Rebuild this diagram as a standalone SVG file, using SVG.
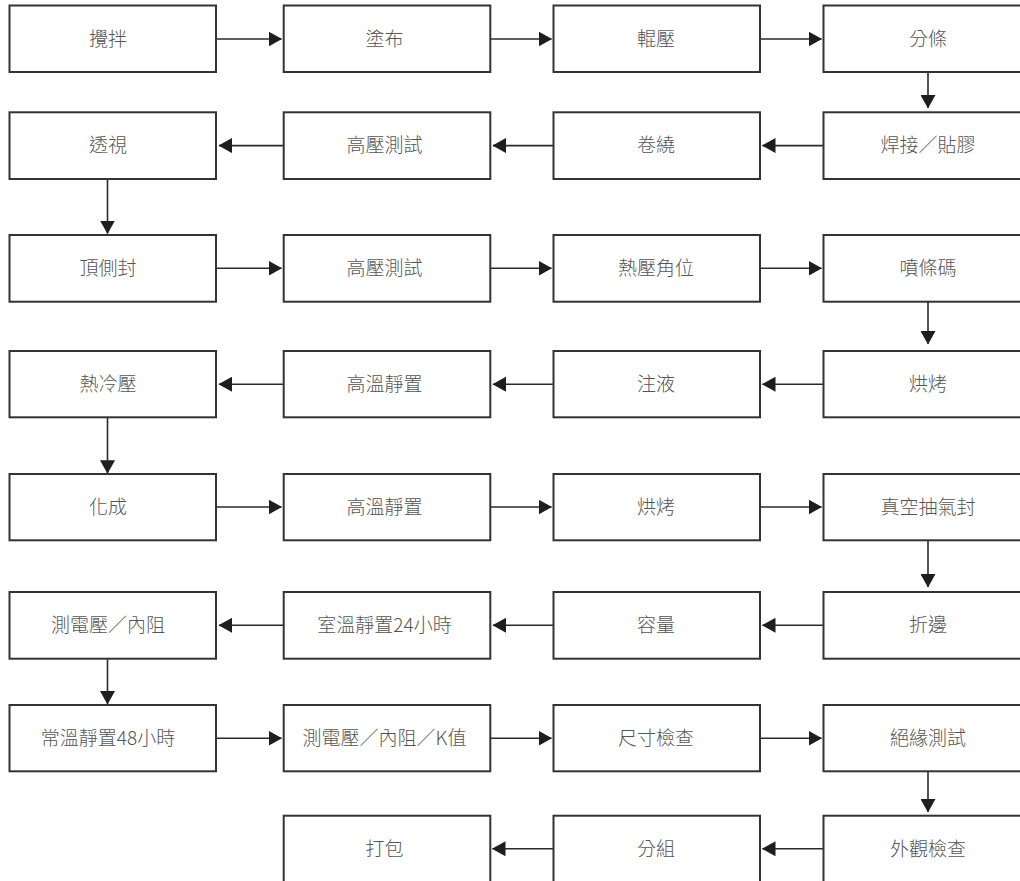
<svg xmlns="http://www.w3.org/2000/svg" width="1020" height="881" viewBox="0 0 1020 881">
<style>
.box{fill:#fff;stroke:#333;stroke-width:2}
.lbl{font-family:"Noto Sans CJK TC","Noto Sans CJK SC",sans-serif;font-size:19px;fill:#555;text-anchor:middle;font-weight:300}
.c{stroke:#2a2a2a;stroke-width:1.6;fill:none;marker-end:url(#ah)}
</style>
<defs>
<marker id="ah" markerUnits="userSpaceOnUse" markerWidth="14" markerHeight="15" refX="13" refY="7.5" orient="auto" viewBox="0 0 14 15">
<path d="M0,0 L13.5,7.5 L0,15 z" fill="#1e1e1e"/>
</marker>
</defs>
<rect width="1020" height="881" fill="#fff"/>
<g id="connectors">
<line class="c" x1="216" y1="39" x2="281.5" y2="39"/>
<line class="c" x1="490.3" y1="39" x2="551.5" y2="39"/>
<line class="c" x1="760" y1="39" x2="821.5" y2="39"/>
<line class="c" x1="928" y1="72" x2="928" y2="108"/>
<line class="c" x1="823.5" y1="145.6" x2="762.5" y2="145.6"/>
<line class="c" x1="553.5" y1="145.6" x2="493" y2="145.6"/>
<line class="c" x1="283.7" y1="145.6" x2="219" y2="145.6"/>
<line class="c" x1="107.5" y1="179" x2="107.5" y2="233.5"/>
<line class="c" x1="216" y1="268.3" x2="281.5" y2="268.3"/>
<line class="c" x1="490.3" y1="268.3" x2="551.5" y2="268.3"/>
<line class="c" x1="760" y1="268.3" x2="821.5" y2="268.3"/>
<line class="c" x1="928" y1="301.7" x2="928" y2="344"/>
<line class="c" x1="823.5" y1="384.2" x2="762.5" y2="384.2"/>
<line class="c" x1="553.5" y1="384.2" x2="493" y2="384.2"/>
<line class="c" x1="283.7" y1="384.2" x2="219" y2="384.2"/>
<line class="c" x1="107.5" y1="417.3" x2="107.5" y2="473.3"/>
<line class="c" x1="216" y1="507" x2="281.5" y2="507"/>
<line class="c" x1="490.3" y1="507" x2="551.5" y2="507"/>
<line class="c" x1="760" y1="507" x2="821.5" y2="507"/>
<line class="c" x1="928" y1="540.3" x2="928" y2="587"/>
<line class="c" x1="823.5" y1="625.3" x2="762.5" y2="625.3"/>
<line class="c" x1="553.5" y1="625.3" x2="493" y2="625.3"/>
<line class="c" x1="283.7" y1="625.3" x2="219" y2="625.3"/>
<line class="c" x1="107.5" y1="658.7" x2="107.5" y2="704"/>
<line class="c" x1="216" y1="738.2" x2="281.5" y2="738.2"/>
<line class="c" x1="490.3" y1="738.2" x2="551.5" y2="738.2"/>
<line class="c" x1="760" y1="738.2" x2="821.5" y2="738.2"/>
<line class="c" x1="928" y1="771.3" x2="928" y2="812"/>
<line class="c" x1="823.5" y1="848.8" x2="762.5" y2="848.8"/>
<line class="c" x1="553.5" y1="848.8" x2="492.5" y2="848.8"/>
</g>
<g id="n1"><rect class="box" x="9.5" y="5.5" width="206.5" height="66.5"/><text class="lbl" x="108" y="45.6">攪拌</text></g>
<g id="n2"><rect class="box" x="283.7" y="5.5" width="206.6" height="66.5"/><text class="lbl" x="384.5" y="45.6">塗布</text></g>
<g id="n3"><rect class="box" x="553.5" y="5.5" width="206.5" height="66.5"/><text class="lbl" x="656" y="45.6">輥壓</text></g>
<g id="n4"><rect class="box" x="823.5" y="5.5" width="207" height="66.5"/><text class="lbl" x="928" y="45.6">分條</text></g>
<g id="n5"><rect class="box" x="823.5" y="112.3" width="207" height="66.7"/><text class="lbl" x="928" y="152.4">焊接／貼膠</text></g>
<g id="n6"><rect class="box" x="553.5" y="112.3" width="206.5" height="66.7"/><text class="lbl" x="656" y="152.4">卷繞</text></g>
<g id="n7"><rect class="box" x="283.7" y="112.3" width="206.6" height="66.7"/><text class="lbl" x="384.5" y="152.4">高壓測試</text></g>
<g id="n8"><rect class="box" x="9.5" y="112.3" width="206.5" height="66.7"/><text class="lbl" x="108" y="152.4">透視</text></g>
<g id="n9"><rect class="box" x="9.5" y="235" width="206.5" height="66.7"/><text class="lbl" x="108" y="275.1">頂側封</text></g>
<g id="n10"><rect class="box" x="283.7" y="235" width="206.6" height="66.7"/><text class="lbl" x="384.5" y="275.1">高壓測試</text></g>
<g id="n11"><rect class="box" x="553.5" y="235" width="206.5" height="66.7"/><text class="lbl" x="656" y="275.1">熱壓角位</text></g>
<g id="n12"><rect class="box" x="823.5" y="235" width="207" height="66.7"/><text class="lbl" x="928" y="275.1">噴條碼</text></g>
<g id="n13"><rect class="box" x="823.5" y="351" width="207" height="66.3"/><text class="lbl" x="928" y="391">烘烤</text></g>
<g id="n14"><rect class="box" x="553.5" y="351" width="206.5" height="66.3"/><text class="lbl" x="656" y="391">注液</text></g>
<g id="n15"><rect class="box" x="283.7" y="351" width="206.6" height="66.3"/><text class="lbl" x="384.5" y="391">高溫靜置</text></g>
<g id="n16"><rect class="box" x="9.5" y="351" width="206.5" height="66.3"/><text class="lbl" x="108" y="391">熱冷壓</text></g>
<g id="n17"><rect class="box" x="9.5" y="474" width="206.5" height="66.3"/><text class="lbl" x="108" y="514">化成</text></g>
<g id="n18"><rect class="box" x="283.7" y="474" width="206.6" height="66.3"/><text class="lbl" x="384.5" y="514">高溫靜置</text></g>
<g id="n19"><rect class="box" x="553.5" y="474" width="206.5" height="66.3"/><text class="lbl" x="656" y="514">烘烤</text></g>
<g id="n20"><rect class="box" x="823.5" y="474" width="207" height="66.3"/><text class="lbl" x="928" y="514">真空抽氣封</text></g>
<g id="n21"><rect class="box" x="823.5" y="592" width="207" height="66.7"/><text class="lbl" x="928" y="632.1">折邊</text></g>
<g id="n22"><rect class="box" x="553.5" y="592" width="206.5" height="66.7"/><text class="lbl" x="656" y="632.1">容量</text></g>
<g id="n23"><rect class="box" x="283.7" y="592" width="206.6" height="66.7"/><text class="lbl" x="384.5" y="632.1">室溫靜置24小時</text></g>
<g id="n24"><rect class="box" x="9.5" y="592" width="206.5" height="66.7"/><text class="lbl" x="108" y="632.1">測電壓／內阻</text></g>
<g id="n25"><rect class="box" x="9.5" y="705" width="206.5" height="66.3"/><text class="lbl" x="108" y="745">常溫靜置48小時</text></g>
<g id="n26"><rect class="box" x="283.7" y="705" width="206.6" height="66.3"/><text class="lbl" x="384.5" y="745">測電壓／內阻／K值</text></g>
<g id="n27"><rect class="box" x="553.5" y="705" width="206.5" height="66.3"/><text class="lbl" x="656" y="745">尺寸檢查</text></g>
<g id="n28"><rect class="box" x="823.5" y="705" width="207" height="66.3"/><text class="lbl" x="928" y="745">絕緣測試</text></g>
<g id="n29"><rect class="box" x="823.5" y="815.7" width="207" height="70"/><text class="lbl" x="928" y="855.6">外觀檢查</text></g>
<g id="n30"><rect class="box" x="553.5" y="815.7" width="206.5" height="70"/><text class="lbl" x="656" y="855.6">分組</text></g>
<g id="n31"><rect class="box" x="283.7" y="815.7" width="206.6" height="70"/><text class="lbl" x="384.5" y="855.6">打包</text></g>
</svg>
